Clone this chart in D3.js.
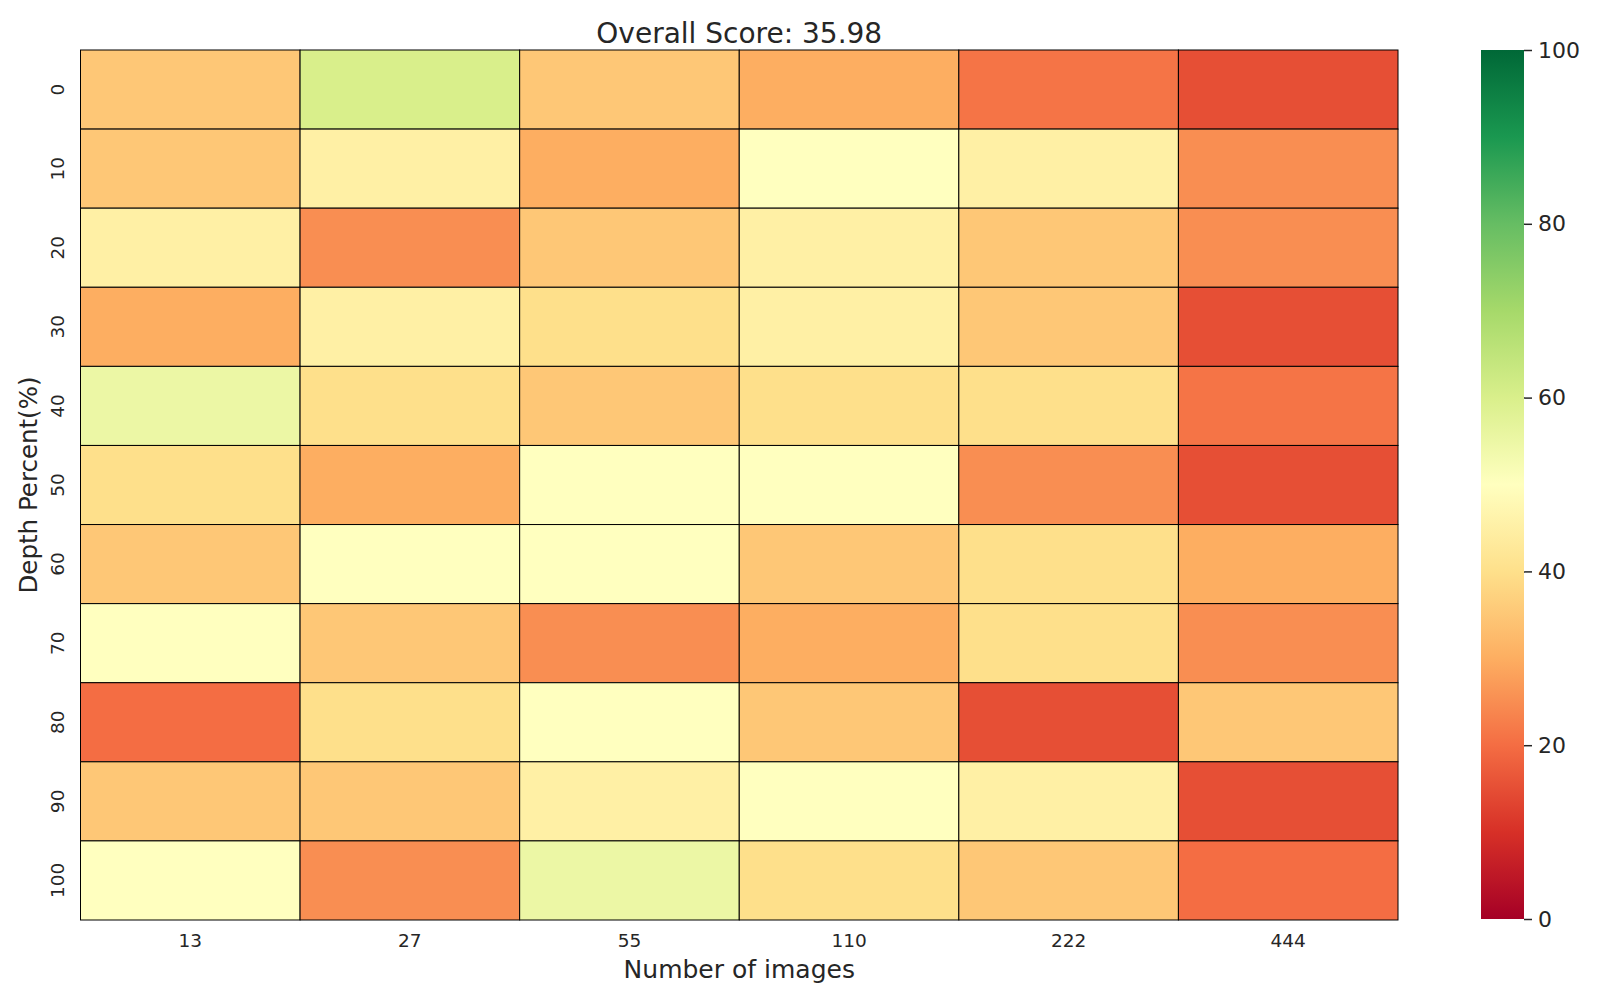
<!DOCTYPE html>
<html>
<head>
<meta charset="utf-8">
<script src="https://cdn.jsdelivr.net/npm/d3@7"></script>
<style>
  body { margin: 0; background: #fff; }
  text { font-family: 'DejaVu Sans', sans-serif; fill: #262626; }
</style>
</head>
<body>
<svg width="1600" height="1000"></svg>
<script>
var width = 1600;
var height = 1000;

var images = ['13', '27', '55', '110', '222', '444'];
var depths = ['0', '10', '20', '30', '40', '50', '60', '70', '80', '90', '100'];

// one array per depth row, values in column order of `images`
var row0 = [35, 60, 35, 30, 21, 15];
var row10 = [35, 45, 30, 50, 45, 25];
var row20 = [45, 25, 35, 45, 35, 25];
var row30 = [30, 45, 40, 45, 35, 15];
var row40 = [55, 40, 35, 40, 40, 21];
var row50 = [40, 30, 50, 50, 25, 15];
var row60 = [35, 50, 50, 35, 40, 30];
var row70 = [50, 35, 25, 30, 40, 25];
var row80 = [20, 40, 50, 35, 15, 35];
var row90 = [35, 35, 45, 50, 45, 15];
var row100 = [50, 25, 55, 40, 35, 20];
var rows = [row0, row10, row20, row30, row40, row50, row60, row70, row80, row90, row100];

var colorTicks = [0, 20, 40, 60, 80, 100];
var overallScore = '35.98';

var cells = [];
rows.forEach(function (r, i) {
  r.forEach(function (v, j) {
    cells.push({ depth: depths[i], images: images[j], value: v });
  });
});

var plot = { left: 80.5, right: 1398, top: 50, bottom: 920 };

var xScale = d3.scaleBand()
        .domain(images)
        .range([plot.left, plot.right]);

var yScale = d3.scaleBand()
        .domain(depths)
        .range([plot.top, plot.bottom]);

// matplotlib RdYlGn control points
var rdylgn = ['#a50026', '#d73027', '#f46d43', '#fdae61', '#fee08b', '#ffffbf',
              '#d9ef8b', '#a6d96a', '#66bd63', '#1a9850', '#006837'];
var colorScale = d3.scaleLinear()
        .domain(d3.range(11).map(d => d * 10))
        .range(rdylgn)
        .interpolate(d3.interpolateRgb);

var svg = d3.select('svg')
      .attr('width', width)
      .attr('height', height);

svg
 .selectAll('rect.cell')
 .data(cells)
 .enter()
 .append('rect')
  .attr('class', 'cell')
  .attr('x', d => xScale(d.images))
  .attr('y', d => yScale(d.depth))
  .attr('width', xScale.bandwidth())
  .attr('height', yScale.bandwidth())
  .attr('fill', d => colorScale(d.value))
  .attr('stroke', '#000')
  .attr('stroke-width', 1);

//x tick labels
svg
  .selectAll('text.xtick')
  .data(images)
  .enter()
  .append('text')
    .attr('class', 'xtick')
    .attr('x', d => xScale(d) + xScale.bandwidth() / 2)
    .attr('y', 941)
    .attr('dy', '0.35em')
    .style('text-anchor', 'middle')
    .style('font-size', '18.5px')
    .text(d => d);

//y tick labels, rotated
svg
  .selectAll('text.ytick')
  .data(depths)
  .enter()
  .append('text')
    .attr('class', 'ytick')
    .attr('transform', d => `translate(58, ${yScale(d) + yScale.bandwidth() / 2}) rotate(-90)`)
    .attr('dy', '0.35em')
    .style('text-anchor', 'middle')
    .style('font-size', '18.5px')
    .text(d => d);

//title
svg
  .append('text')
    .attr('x', (plot.left + plot.right) / 2)
    .attr('y', 33)
    .attr('dy', '0.35em')
    .style('text-anchor', 'middle')
    .style('font-size', '28px')
    .text('Overall Score: ' + overallScore);

//x-axis label
svg
  .append('text')
    .attr('x', (plot.left + plot.right) / 2)
    .attr('y', 969)
    .attr('dy', '0.35em')
    .style('text-anchor', 'middle')
    .style('font-size', '25px')
    .text('Number of images');

//y-axis label
svg
  .append('text')
    .attr('transform', `translate(28, ${(plot.top + plot.bottom) / 2}) rotate(-90)`)
    .attr('dy', '0.35em')
    .style('text-anchor', 'middle')
    .style('font-size', '24.5px')
    .text('Depth Percent(%)');

//colorbar
var cbar = { left: 1481, width: 43 };
var cScale = d3.scaleLinear()
        .domain([0, 100])
        .range([plot.bottom - 1, plot.top]);

var grad = svg.append('defs')
  .append('linearGradient')
    .attr('id', 'cbar-grad')
    .attr('x1', 0).attr('y1', 1)
    .attr('x2', 0).attr('y2', 0);

grad.selectAll('stop')
  .data(colorScale.domain())
  .enter()
  .append('stop')
    .attr('offset', d => d / 100)
    .attr('stop-color', d => colorScale(d));

svg
  .append('rect')
    .attr('x', cbar.left)
    .attr('y', cScale(100))
    .attr('width', cbar.width)
    .attr('height', cScale(0) - cScale(100))
    .attr('fill', 'url(#cbar-grad)');

var cAxis = d3.axisRight(cScale)
        .tickValues(colorTicks)
        .tickSize(8)
        .tickPadding(6);

var cg = svg
  .append('g')
  .attr('transform', `translate(${cbar.left + cbar.width}, 0)`)
  .call(cAxis);

cg.select('.domain').remove();
cg.selectAll('line').attr('stroke', '#262626').attr('stroke-width', 1.5);
cg.selectAll('text')
  .style('font-size', '22px')
  .style('font-family', "'DejaVu Sans', sans-serif")
  .attr('fill', '#262626');
</script>
</body>
</html>
